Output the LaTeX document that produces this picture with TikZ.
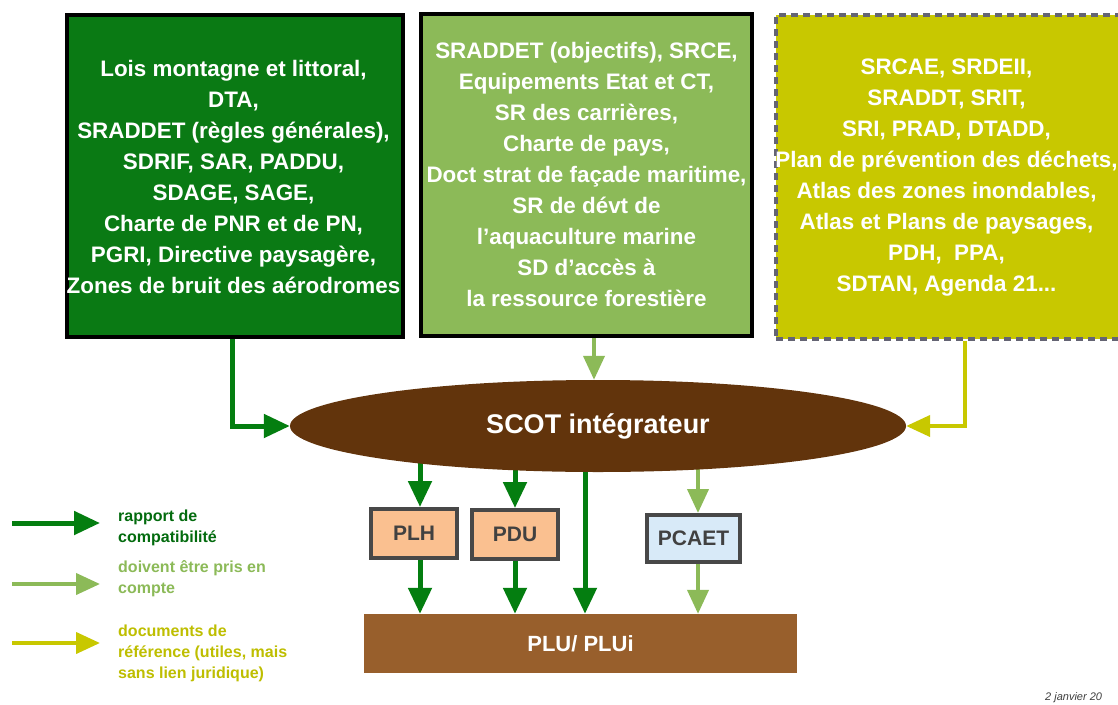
\documentclass[tikz,border=0pt]{standalone}
\usepackage{fontspec}
\setmainfont{Liberation Sans}
\usetikzlibrary{arrows.meta,shapes.geometric,backgrounds}
\definecolor{dgreen}{RGB}{4,126,16}
\definecolor{boxdg}{RGB}{10,122,20}
\definecolor{lgreen}{RGB}{140,186,88}
\definecolor{ygreen}{RGB}{200,200,0}
\definecolor{scotbrown}{RGB}{98,52,12}
\definecolor{plubrown}{RGB}{152,95,44}
\definecolor{peach}{RGB}{250,192,144}
\definecolor{paleblue}{RGB}{216,234,248}
\definecolor{frame}{RGB}{72,72,72}
\definecolor{dashgray}{RGB}{100,100,115}
\begin{document}
\begin{tikzpicture}[x=1pt,y=-1pt,
  bigbox/.style={draw=black,line width=4pt,inner sep=0pt},
  boxtext/.style={text=white,align=center,inner sep=0pt,font=\fontsize{22.4}{31}\selectfont\bfseries},
  arr/.style={line width=5pt,-{Triangle[length=26pt,width=23pt]}},
  arrl/.style={line width=4pt,-{Triangle[length=24pt,width=21pt]}},
  smallbox/.style={draw=frame,line width=4pt,inner sep=0pt,font=\fontsize{21}{24}\selectfont\bfseries,text=frame!90!black},
  legtext/.style={anchor=north west,align=left,inner sep=0pt,font=\fontsize{16}{21}\selectfont\bfseries}
]
\useasboundingbox (0,0) rectangle (1118,704);
\clip (0,0) rectangle (1118,704);
\begin{scope}[on background layer]
\fill[white] (0,0) rectangle (1118,704);
\end{scope}

% top boxes
\node[bigbox,fill=boxdg,minimum width=336pt,minimum height=322pt] (b1) at (235,176) {};
\node[boxtext] (t1) at (233.5,177) {Lois montagne et littoral,\\DTA,\\SRADDET (règles générales),\\SDRIF, SAR, PADDU,\\SDAGE, SAGE,\\Charte de PNR et de PN,\\PGRI, Directive paysagère,\\Zones de bruit des aérodromes};

\node[bigbox,fill=lgreen,minimum width=331pt,minimum height=322pt] (b2) at (586.5,175) {};
\node[boxtext] (t2) at (586.5,174) {SRADDET (objectifs), SRCE,\\Equipements Etat et CT,\\SR des carrières,\\Charte de pays,\\Doct strat de façade maritime,\\SR de dévt de\\l'aquaculture marine\\SD d'accès à\\la ressource forestière};

\node[draw=dashgray,line width=4pt,dash pattern=on 7pt off 5pt,fill=ygreen,minimum width=347pt,minimum height=324pt,inner sep=0pt] (b3) at (949.5,177) {};
\node[boxtext] (t3) at (946.5,178) {SRCAE, SRDEII,\\SRADDT, SRIT,\\SRI, PRAD, DTADD,\\Plan de prévention des déchets,\\Atlas des zones inondables,\\Atlas et Plans de paysages,\\PDH,\ \ PPA,\\SDTAN, Agenda 21...};

% SCOT
\node[ellipse,fill=scotbrown,minimum width=616pt,minimum height=92pt,inner sep=0pt,text=white,font=\fontsize{27}{30}\selectfont\bfseries] (scot) at (598,426) {SCOT intégrateur};

% small boxes
\node[smallbox,fill=peach,minimum width=86pt,minimum height=49pt] (plh) at (414,533.5) {PLH};
\node[smallbox,fill=peach,minimum width=86pt,minimum height=49pt] (pdu) at (515,534.5) {PDU};
\node[smallbox,fill=paleblue,minimum width=93pt,minimum height=47pt] (pcaet) at (693.5,538.5) {PCAET};

% PLU
\node[fill=plubrown,minimum width=433pt,minimum height=59pt,inner sep=0pt,text=white,font=\fontsize{22}{24}\selectfont\bfseries] (plu) at (580.5,643.5) {PLU/ PLUi};

\coordinate (c420) at (420,0);
\coordinate (c585) at (585,0);
\coordinate (c594) at (594,0);
\coordinate (c698) at (698,0);
\coordinate (c232) at (232,0);
\coordinate (c965) at (965,0);

\begin{scope}[on background layer]
\draw[arr,dgreen] (b1.south -| c232) |- (scot.west);
\draw[arrl,lgreen] (b2.south -| c594) -- (scot.north -| c594);
\draw[arrl,ygreen] (b3.south -| c965) |- (scot.east);
\draw[arr,dgreen] (scot.center -| c420) -- (plh.north -| c420);
\draw[arr,dgreen] (scot.center -| pdu) -- (pdu.north);
\draw[arr,dgreen] (scot.center -| c585) -- (plu.north -| c585);
\draw[arrl,lgreen] (scot.center -| c698) -- (pcaet.north -| c698);
\end{scope}
\draw[arr,dgreen] (plh.south -| c420) -- (plu.north -| c420);
\draw[arr,dgreen] (pdu.south) -- (pdu.south |- plu.north);
\draw[arrl,lgreen] (pcaet.south -| c698) -- (plu.north -| c698);

% legend
\coordinate (l1a) at (12,523);  \coordinate (l1b) at (100,523);
\coordinate (l2a) at (12,584);  \coordinate (l2b) at (100,584);
\coordinate (l3a) at (12,643);  \coordinate (l3b) at (100,643);
\draw[arr,dgreen] (l1a) -- (l1b);
\draw[arrl,lgreen] (l2a) -- (l2b);
\draw[arrl,ygreen] (l3a) -- (l3b);
\node[legtext,text=dgreen!85!black] (lg1) at (118,510) {rapport de\\compatibilité};
\node[legtext,text=lgreen] (lg2) at (118,560) {doivent être pris en\\compte};
\node[legtext,text=ygreen!95!black] (lg3) at (118,625) {documents de\\référence (utiles, mais\\sans lien juridique)};

% date
\node[anchor=base west,inner sep=0pt,font=\fontsize{11}{13}\selectfont\itshape,text=black!75] (date) at (1045,700) {2 janvier 20};
\end{tikzpicture}
\end{document}
